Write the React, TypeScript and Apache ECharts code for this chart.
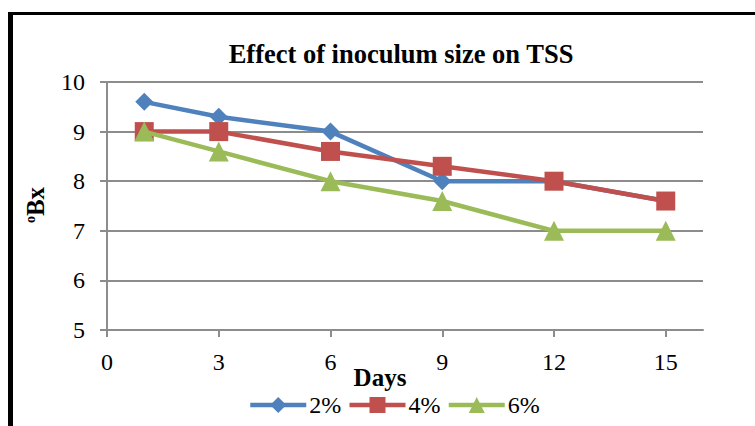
import React, { useEffect, useRef } from "react";
import * as echarts from "echarts";

const days = [1, 3, 6, 9, 12, 15];
const s2 = [9.6, 9.3, 9.0, 8.0, 8.0, 7.6];
const s4 = [9.0, 9.0, 8.6, 8.3, 8.0, 7.6];
const s6 = [9.0, 8.6, 8.0, 7.6, 7.0, 7.0];
const xTicks = [0, 3, 6, 9, 12, 15];
const seriesNames = ["2%", "4%", "6%"];
const colors = ["#4F81BD", "#C0504D", "#9BBB59"];
const symbols = ["diamond", "rect", "triangle"];
const symbolSizes = [18, 19, 20];

const FONT = "Liberation Serif";

export default function App() {
  const ref = useRef<HTMLDivElement>(null);
  useEffect(() => {
    if (!ref.current) return;
    const chart = echarts.init(ref.current, undefined, { renderer: "svg" });
    const all = [s2, s4, s6];
    chart.setOption({
      animation: false,
      backgroundColor: "#ffffff",
      textStyle: { fontFamily: FONT },
      grid: { left: 107, right: 52, top: 82, bottom: 96, containLabel: false },
      xAxis: {
        type: "value",
        min: 0,
        max: 16,
        interval: 3,
        axisLine: { show: true, lineStyle: { color: "#8c8c8c", width: 2 } },
        axisTick: { show: true, length: 7, customValues: xTicks, lineStyle: { color: "#8c8c8c", width: 2 } },
        axisLabel: {
          customValues: xTicks,
          margin: 20,
          fontSize: 24,
          color: "#000",
          fontFamily: FONT,
        },
        splitLine: { show: false },
      },
      yAxis: {
        type: "value",
        min: 5,
        max: 10,
        interval: 1,
        axisLine: { show: true, lineStyle: { color: "#8c8c8c", width: 2 } },
        axisTick: { show: true, length: 7, lineStyle: { color: "#8c8c8c", width: 2 } },
        axisLabel: { margin: 22, fontSize: 24, color: "#000", fontFamily: FONT },
        splitLine: { show: true, lineStyle: { color: "#8c8c8c", width: 2 } },
      },
      legend: {
        left: 243,
        top: 388,
        itemWidth: 56,
        itemHeight: 20,
        itemGap: 6,
        lineStyle: { width: 4.5 },
        textStyle: { fontSize: 24, color: "#000", fontFamily: FONT, padding: [0, 0, 0, -2] },
        data: seriesNames.map((name, i) => ({
          name,
          lineStyle: { width: 4.5, color: colors[i] },
        })),
      },
      series: seriesNames.map((name, i) => ({
        name,
        type: "line",
        data: days.map((d, j) => [d, all[i][j]]),
        symbol: symbols[i],
        symbolSize: symbolSizes[i],
        showSymbol: true,
        lineStyle: { color: colors[i], width: 4.5 },
        itemStyle: { color: colors[i] },
        z: 2 + i,
      })),
      graphic: [
        { type: "rect", shape: { x: 8, y: 12, width: 747, height: 3 }, style: { fill: "#000" } },
        { type: "rect", shape: { x: 8, y: 12, width: 5, height: 414 }, style: { fill: "#000" } },
        {
          type: "text",
          x: 401,
          y: 54,
          style: {
            text: "Effect of inoculum size on TSS",
            font: `bold 26.5px ${FONT}`,
            fill: "#000",
            textAlign: "center",
            textVerticalAlign: "middle",
          },
        },
        {
          type: "text",
          x: 380,
          y: 377,
          style: {
            text: "Days",
            font: `bold 25px ${FONT}`,
            fill: "#000",
            textAlign: "center",
            textVerticalAlign: "middle",
          },
        },
        {
          type: "text",
          x: 35,
          y: 205,
          rotation: Math.PI / 2,
          style: {
            text: "{s|o}{b|Bx}",
            fill: "#000",
            textAlign: "center",
            textVerticalAlign: "middle",
            rich: {
              s: { font: `bold 14px ${FONT}`, fill: "#000", padding: [0, 0, 10, 0] },
              b: { font: `bold 25px ${FONT}`, fill: "#000" },
            },
          },
        },
      ],
    });
    return () => chart.dispose();
  }, []);
  return (
    <div
      ref={ref}
      style={{ position: "fixed", left: 0, top: 0, width: 755, height: 426 }}
    />
  );
}
